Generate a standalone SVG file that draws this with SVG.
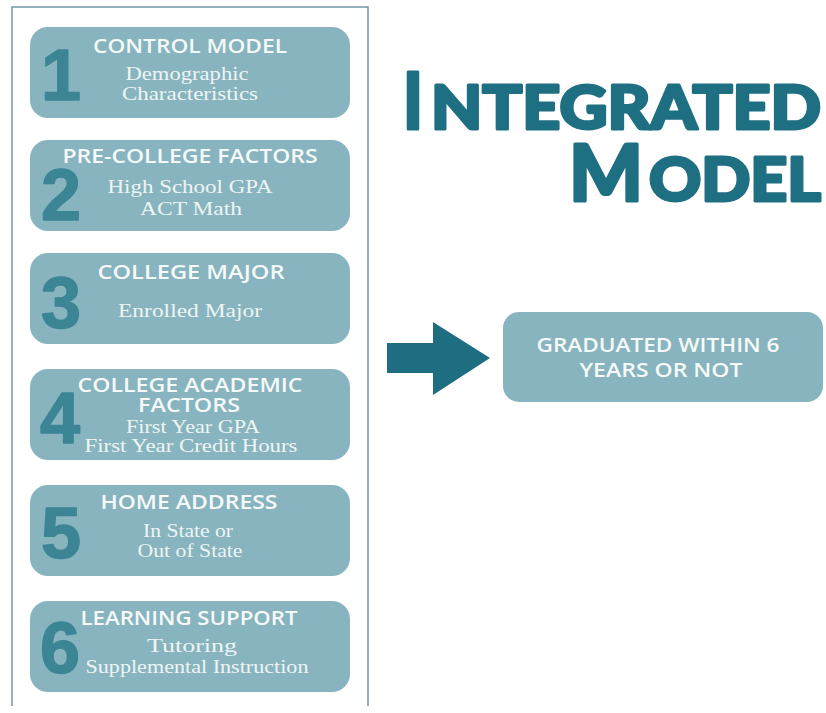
<svg xmlns="http://www.w3.org/2000/svg" width="826" height="713" viewBox="0 0 826 713">
<style>
.box{fill:#87b4be}
.num{font-family:"Liberation Sans",Arial,sans-serif;font-weight:bold;font-size:72px;fill:#3c8595;stroke:#3c8595;stroke-width:1.5;stroke-linejoin:round}
.hd{font-family:"Open Sans","Liberation Sans",Arial,sans-serif;font-weight:600;font-size:19px;fill:#f5f9f9;text-anchor:middle}
.sub{font-family:"Liberation Serif","Times New Roman",serif;font-size:19px;fill:#eef4f4;text-anchor:middle}
.ttl{font-family:Lato,"Open Sans",sans-serif;font-weight:900;fill:#1f6f83;stroke:#1f6f83;stroke-width:3;stroke-linejoin:round}
</style>
<rect width="826" height="713" fill="#ffffff"/>
<path d="M12,706 V7 H368 V706" fill="none" stroke="#7595a5" stroke-width="1.5"/>

<g id="title">
<text class="ttl" x="403" y="129" font-size="78" textLength="20" lengthAdjust="spacingAndGlyphs">I</text>
<text class="ttl" x="431" y="129" font-size="60" textLength="390" lengthAdjust="spacingAndGlyphs">NTEGRATED</text>
<text class="ttl" x="569" y="201" font-size="78" textLength="74" lengthAdjust="spacingAndGlyphs">M</text>
<text class="ttl" x="649" y="201" font-size="60" textLength="172" lengthAdjust="spacingAndGlyphs">ODEL</text>
</g>

<g id="node1">
<rect class="box" x="30" y="27" width="320" height="91" rx="18"/>
<text class="num" x="41" y="100">1</text>
<text class="hd" x="190" y="53" textLength="194" lengthAdjust="spacingAndGlyphs">CONTROL MODEL</text>
<text class="sub" x="187" y="80" textLength="123" lengthAdjust="spacingAndGlyphs">Demographic</text>
<text class="sub" x="190" y="100" textLength="136" lengthAdjust="spacingAndGlyphs">Characteristics</text>
</g>

<g id="node2">
<rect class="box" x="30" y="140" width="320" height="91" rx="18"/>
<text class="num" x="41" y="220">2</text>
<text class="hd" x="190" y="163" textLength="255" lengthAdjust="spacingAndGlyphs">PRE-COLLEGE FACTORS</text>
<text class="sub" x="190" y="193" textLength="165" lengthAdjust="spacingAndGlyphs">High School GPA</text>
<text class="sub" x="191" y="215" textLength="102" lengthAdjust="spacingAndGlyphs">ACT Math</text>
</g>

<g id="node3">
<rect class="box" x="30" y="253" width="320" height="91" rx="18"/>
<text class="num" x="41" y="328">3</text>
<text class="hd" x="191" y="279" textLength="187" lengthAdjust="spacingAndGlyphs">COLLEGE MAJOR</text>
<text class="sub" x="190" y="317" textLength="144" lengthAdjust="spacingAndGlyphs">Enrolled Major</text>
</g>

<g id="node4">
<rect class="box" x="30" y="369" width="320" height="91" rx="18"/>
<text class="num" x="40" y="443">4</text>
<text class="hd" x="190" y="392" font-size="18" textLength="225" lengthAdjust="spacingAndGlyphs">COLLEGE ACADEMIC</text>
<text class="hd" x="189" y="412" font-size="18" textLength="102" lengthAdjust="spacingAndGlyphs">FACTORS</text>
<text class="sub" x="193" y="433" textLength="134" lengthAdjust="spacingAndGlyphs">First Year GPA</text>
<text class="sub" x="191" y="452" textLength="213" lengthAdjust="spacingAndGlyphs">First Year Credit Hours</text>
</g>

<g id="node5">
<rect class="box" x="30" y="485" width="320" height="91" rx="18"/>
<text class="num" x="41" y="558">5</text>
<text class="hd" x="189" y="509" textLength="177" lengthAdjust="spacingAndGlyphs">HOME ADDRESS</text>
<text class="sub" x="188" y="537" textLength="90" lengthAdjust="spacingAndGlyphs">In State or</text>
<text class="sub" x="190" y="557" textLength="105" lengthAdjust="spacingAndGlyphs">Out of State</text>
</g>

<g id="node6">
<rect class="box" x="30" y="601" width="320" height="91" rx="18"/>
<text class="num" x="40" y="673">6</text>
<text class="hd" x="189" y="625" textLength="217" lengthAdjust="spacingAndGlyphs">LEARNING SUPPORT</text>
<text class="sub" x="192" y="652" textLength="90" lengthAdjust="spacingAndGlyphs">Tutoring</text>
<text class="sub" x="197" y="673" textLength="223" lengthAdjust="spacingAndGlyphs">Supplemental Instruction</text>
</g>

<g id="connectors">
<polygon points="387,343 433,343 433,322 490,358 433,395 433,373 387,373" fill="#1f6d80"/>
</g>

<g id="result">
<rect class="box" x="503" y="312" width="320" height="90" rx="16"/>
<text class="hd" x="658" y="352" textLength="243" lengthAdjust="spacingAndGlyphs">GRADUATED WITHIN 6</text>
<text class="hd" x="661" y="377" textLength="163" lengthAdjust="spacingAndGlyphs">YEARS OR NOT</text>
</g>
</svg>
